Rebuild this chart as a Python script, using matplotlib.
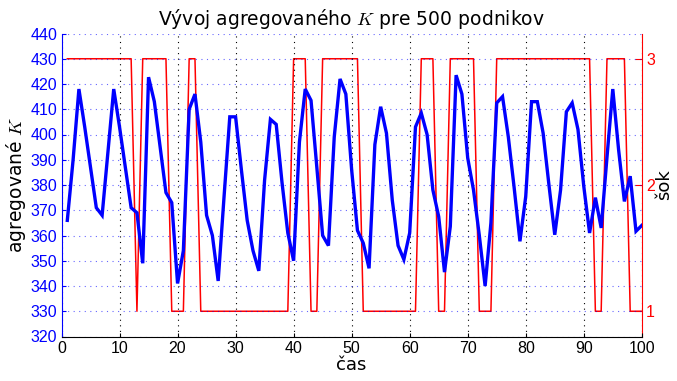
import matplotlib
matplotlib.use("Agg")
import matplotlib.pyplot as plt

plt.rcParams['font.family'] = ['Liberation Sans', 'DejaVu Sans']
plt.rcParams['mathtext.fontset'] = 'cm'

t = list(range(1, 101))
K = [366, 390, 418, 403, 387, 371, 368, 393, 418, 403, 387, 371,
     369, 349, 422.7, 413, 395, 377, 373, 341, 354, 410, 416, 397,
     368, 360, 342, 375, 407, 407, 386, 366, 354, 346, 382, 406,
     404, 381, 361, 350, 397, 418, 413.5, 387, 360, 356, 399, 422,
     416, 386, 362, 357, 347, 396, 411, 400.5, 374, 356, 350.5, 361,
     403, 408.5, 400, 378, 367.5, 345.5, 363.6, 423.5, 416, 390.7,
     378, 360, 340, 365, 412.5, 415, 399, 379, 357.7, 375.5,
     413, 413, 400.5, 380, 360.3, 378, 409, 412.5, 402, 379.5,
     361, 375, 363, 391, 418, 394, 373.5, 383.5, 361.7, 364]
shock = ([3] * 12 + [1] + [3] * 5 + [1] * 3 + [3] * 2 + [1] * 16 + [3] * 3 +
         [1] * 2 + [3] * 7 + [1] * 10 + [3] * 3 + [1] * 2 + [3] * 5 +
         [1] * 3 + [3] * 17 + [1] * 2 + [3] * 4 + [1] * 3)
left_ticks = list(range(320, 441, 10))
right_ticks = [1, 2, 3]
x_ticks = list(range(0, 101, 10))

fig = plt.figure(figsize=(6.77, 3.81), dpi=100)
ax = fig.add_axes([61.5 / 677, 1 - 336.5 / 381, (641.8 - 61.5) / 677, (336.5 - 33.5) / 381])
ax2 = ax.twinx()

blue = '#0000ff'
red = '#ff0000'

ax.plot(t, K, color=blue, lw=2.4, zorder=3, solid_joinstyle='miter')
ax2.plot(t, shock, color=red, lw=1.1, zorder=2)

ax.set_xlim(0, 100)
ax.set_ylim(320, 440)
ax2.set_ylim(0.8, 3.2)
ax.set_xticks(x_ticks)
ax.set_yticks(left_ticks)
ax2.set_yticks(right_ticks)

ax.set_zorder(2)
ax.patch.set_visible(False)

for a in (ax, ax2):
    a.spines['top'].set_visible(False)
ax.spines['right'].set_visible(False)
ax2.spines['left'].set_visible(False)
ax2.spines['bottom'].set_visible(False)
ax.spines['left'].set_color(blue)
ax2.spines['right'].set_color(red)

ax.tick_params(axis='x', direction='in', length=3, labelsize=11.5, colors='black', pad=3)
ax.tick_params(axis='y', direction='in', length=3, labelsize=11.5, colors=blue, pad=3)
ax2.tick_params(axis='y', direction='in', length=5, labelsize=11.5, colors=red, pad=3)

ax.grid(axis='y', color=blue, linestyle=(0, (1, 4)), lw=0.8, alpha=0.6)
ax.grid(axis='x', color='black', linestyle=(0, (1, 4)), lw=0.8)

ax.set_title('Vývoj agregovaného $K$ pre 500 podnikov', fontsize=13.5, pad=6,
             family=['DejaVu Sans'])
ax.set_xlabel('čas', fontsize=13, labelpad=0, family=['DejaVu Sans'])
ax.set_ylabel('agregované $K$', fontsize=13.5, labelpad=2, family=['DejaVu Sans'])
ax2.set_ylabel('šok', fontsize=13, labelpad=0, rotation=90, family=['DejaVu Sans'])

fig.savefig('out.png', dpi=100)
